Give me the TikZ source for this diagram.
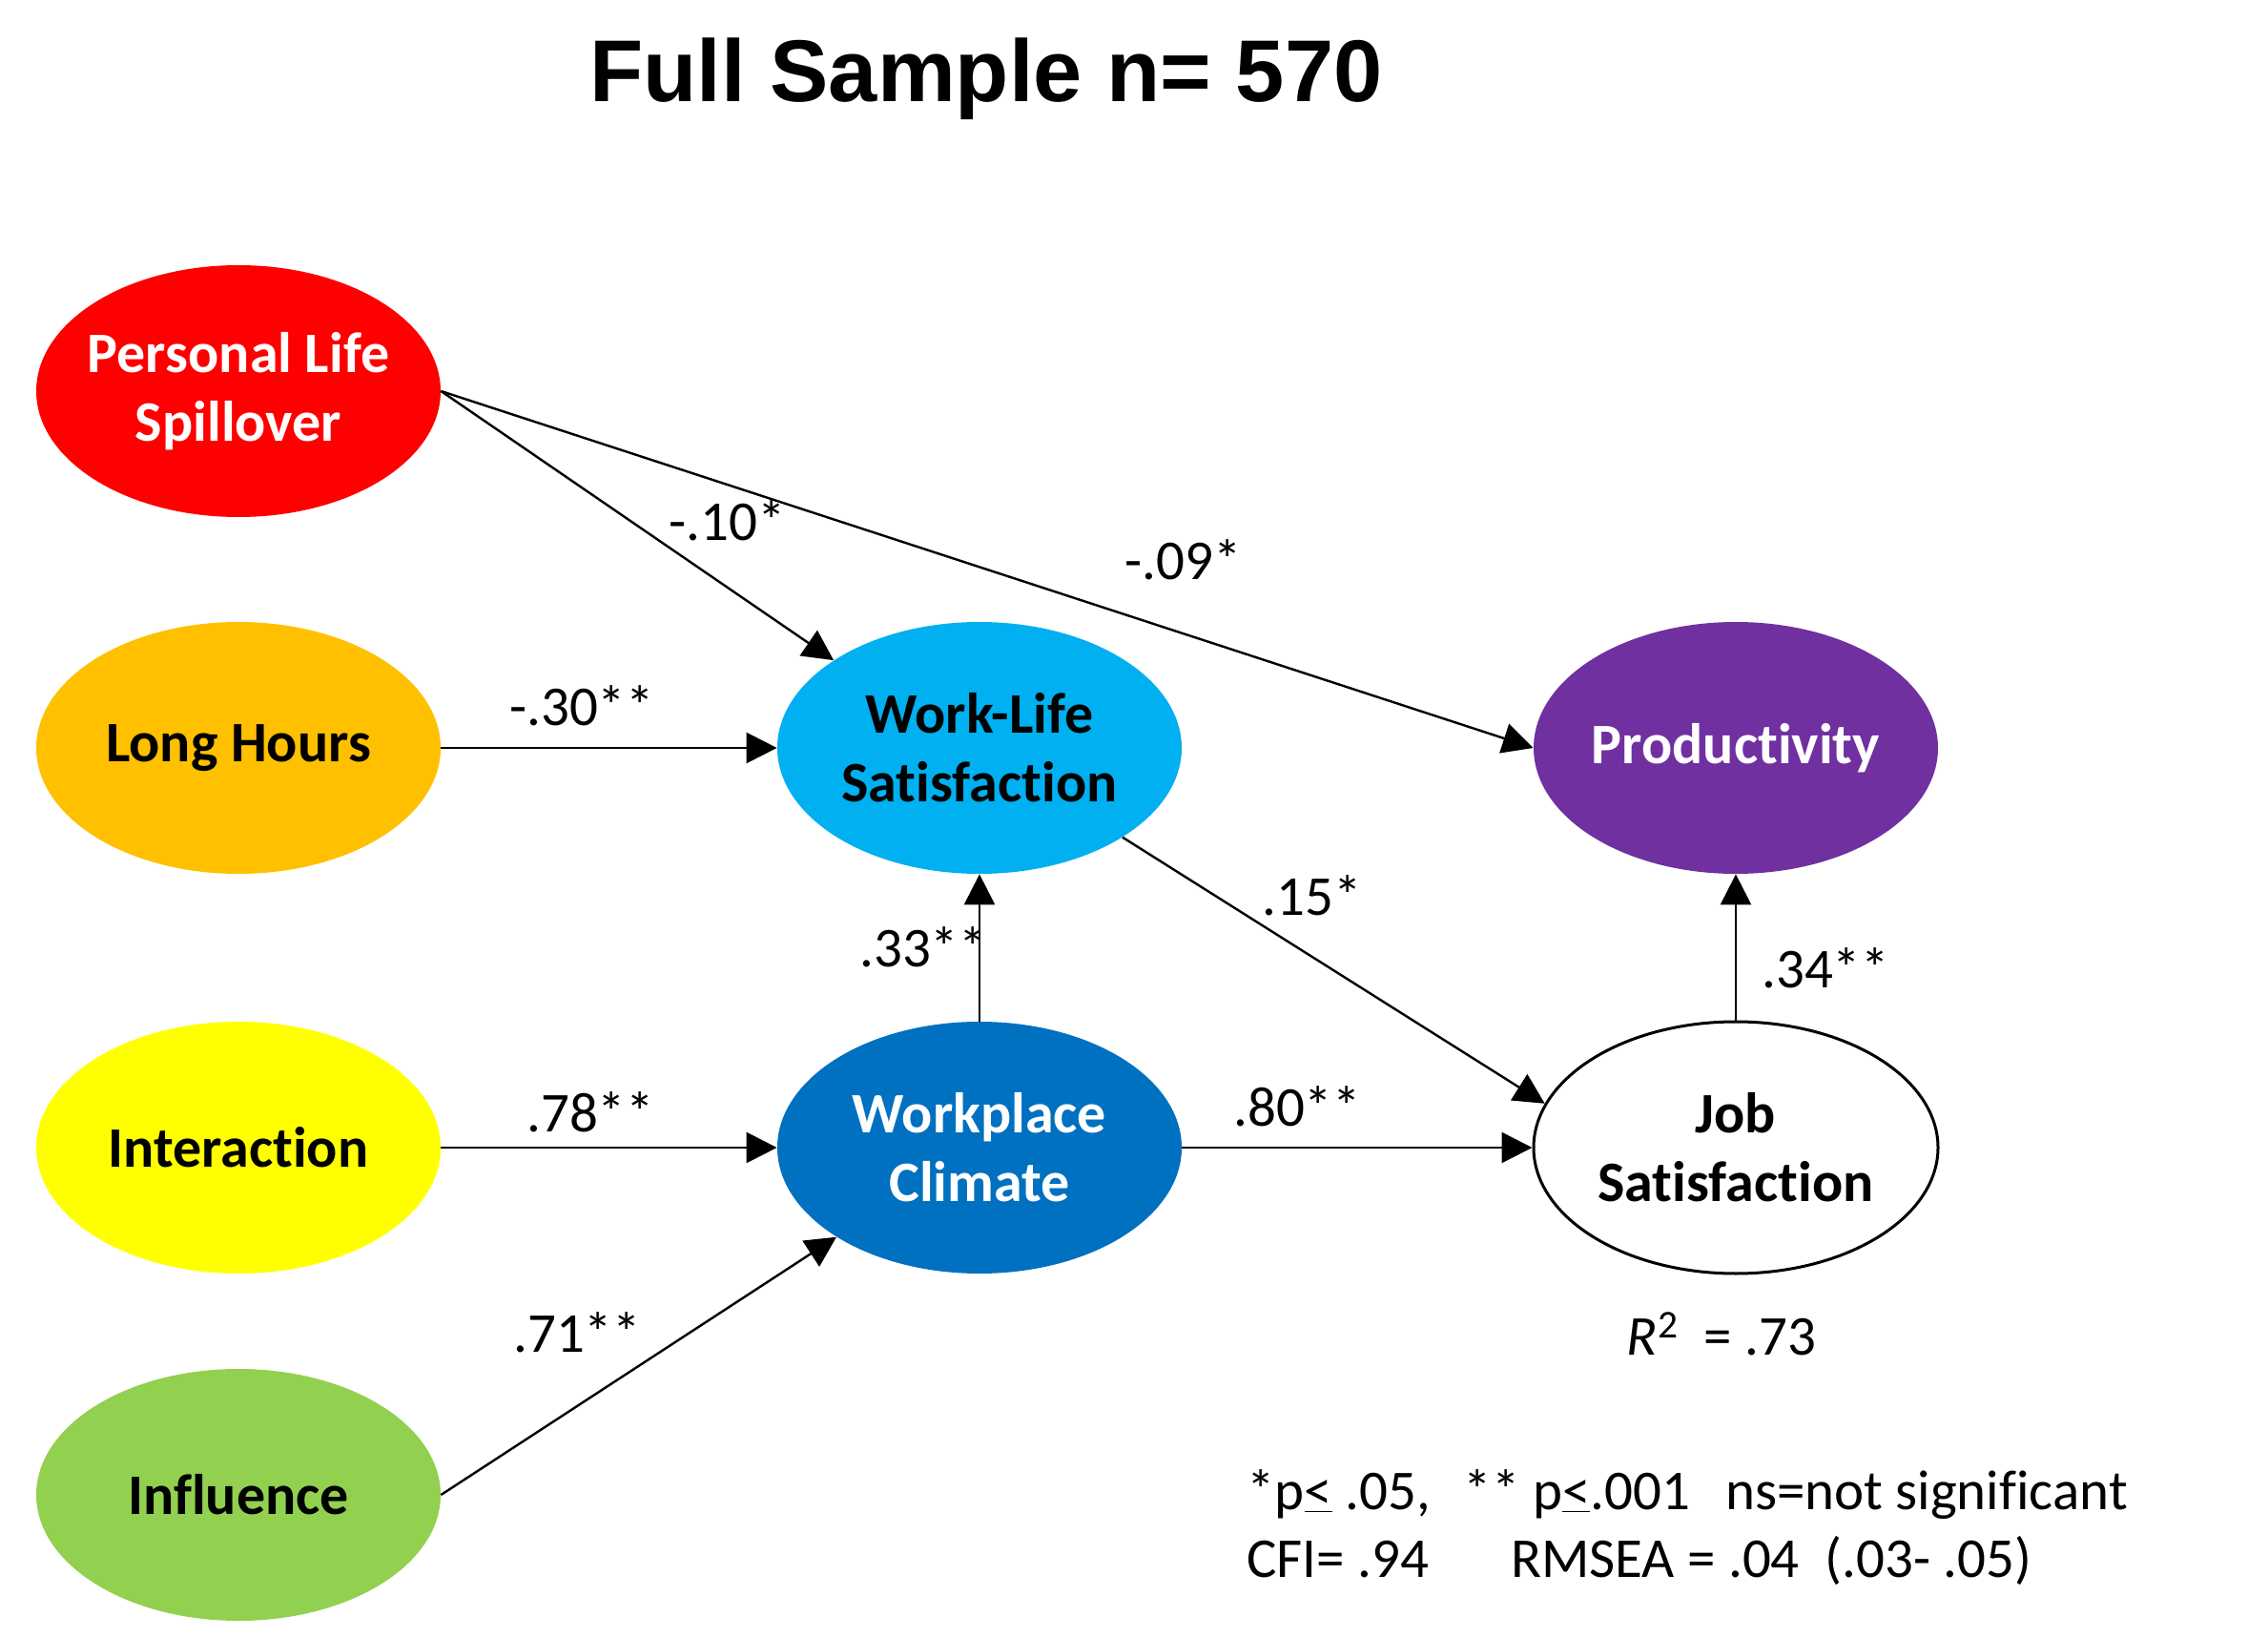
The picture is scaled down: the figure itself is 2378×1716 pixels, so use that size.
\documentclass[tikz,border=0pt]{standalone}
\usepackage{fontspec}
\setmainfont{Carlito}[Ligatures=NoCommon]
\newfontfamily\titlefont{Liberation Sans}
\usetikzlibrary{shapes.geometric,arrows.meta}
\definecolor{plsred}{RGB}{255,0,0}
\definecolor{lhorange}{RGB}{255,192,0}
\definecolor{intyellow}{RGB}{255,255,0}
\definecolor{infgreen}{RGB}{146,208,80}
\definecolor{wlsblue}{RGB}{0,176,240}
\definecolor{wcblue}{RGB}{0,112,192}
\definecolor{prodpurple}{RGB}{112,48,160}
\begin{document}
\begin{tikzpicture}[x=0.5pt,y=-0.5pt,
  lv/.style={ellipse, minimum width=212pt, minimum height=132pt, inner sep=0pt, inner xsep=-10pt, align=center,
    font=\fontsize{30}{36}\selectfont\bfseries},
  pathedge/.style={line width=1.2pt, -{Triangle[length=16pt,width=16pt]}},
  coef/.style={font=\fontsize{29.5}{36}\selectfont, inner sep=0pt},
]
\useasboundingbox (0,0) rectangle (2378,1716);
\node[inner sep=0pt, font=\titlefont\bfseries\fontsize{46}{55}\selectfont] (title) at (1034,83) {Full Sample n= 570};

\node[lv, fill=plsred, text=white] (pls) at (250,410) {Personal Life\\Spillover};
\node[lv, fill=lhorange] (lh) at (250,784) {Long Hours};
\node[lv, fill=intyellow] (int) at (250,1203) {Interaction};
\node[lv, fill=infgreen] (inf) at (250,1567) {Influence};
\node[lv, fill=wlsblue] (wls) at (1027,784) {Work-Life\\Satisfaction};
\node[lv, fill=wcblue, text=white] (wc) at (1027,1203) {Workplace\\Climate};
\node[lv, fill=prodpurple, text=white] (prod) at (1820,784) {\raisebox{-3pt}{Productivity}};
\node[lv, draw, line width=1.5pt, fill=white] (js) at (1820,1203) {Job\\Satisfaction};

\draw[pathedge] (pls.east) -- (wls.149);
\draw[pathedge] (pls.east) -- (prod.west);
\draw[pathedge] (lh.east) -- (wls.west);
\draw[pathedge] (int.east) -- (wc.west);
\draw[pathedge] (inf.east) -- (wc.212);
\draw[pathedge] (wc.north) -- (wls.south);
\draw[pathedge] (wls.328) -- (js.167);
\draw[pathedge] (wc.east) -- (js.west);
\draw[pathedge] (js.north) -- (prod.south);

\node[coef] (c1) at (763,546) {-.10*};
\node[coef] (c2) at (1241,587) {-.09*};
\node[coef] (c3) at (610,740) {-.30**};
\node[coef] (c4) at (1376,939) {.15*};
\node[coef] (c5) at (968,993) {.33**};
\node[coef] (c6) at (1914,1015) {.34**};
\node[coef] (c7) at (619,1166) {.78**};
\node[coef] (c8) at (1360,1160) {.80**};
\node[coef] (c9) at (605,1397) {.71**};
\node[coef] (r2) at (1805,1398) {\textit{R}\textsuperscript{2}\ \ = .73};

\node[coef, anchor=base west] (fn1) at (1307,1582) {*p\underline{<} .05,\hspace{17.5pt}** p\underline{<}.001\hspace{18.5pt}ns=not significant};
\node[coef, anchor=base west] (fn2) at (1307,1653) {CFI= .94\hspace{43pt}RMSEA = .04\ \ (.03- .05)};
\end{tikzpicture}
\end{document}
